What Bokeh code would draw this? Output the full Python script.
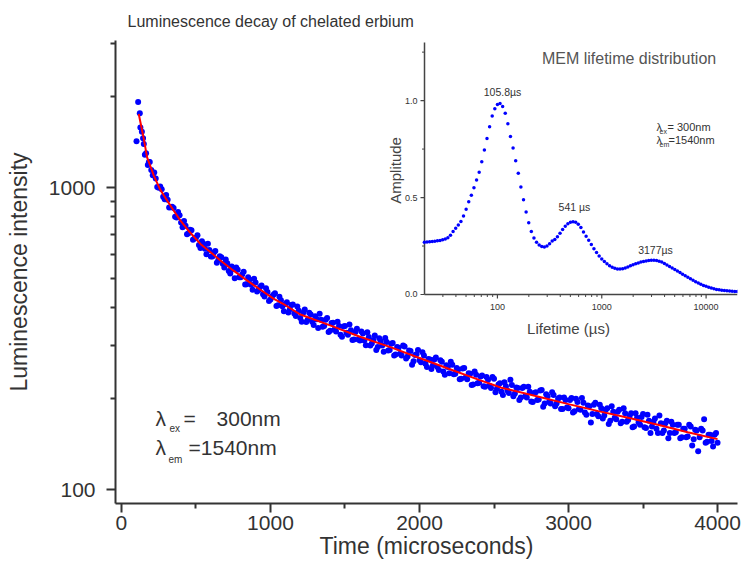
import math
from bokeh.plotting import figure
from bokeh.models import Range1d, FixedTicker, PrintfTickFormatter, LogScale, LinearScale
from bokeh.embed import file_html
from bokeh.resources import INLINE
from bokeh.core.properties import value

FONT = "Liberation Sans"
TXT = "#333333"

# ---------------- main decay data (time in microseconds, intensity) ----------------
early_time = [101, 112, 123, 127, 137, 145, 150, 157, 165, 177, 184]
early_intensity = [1423, 1922, 1762, 1583, 1530, 1457, 1395, 1286, 1300, 1189, 1215]

grid_time = list(range(190, 4000, 20)) + [4000]
grid_intensity = [
    1216, 1098, 1072, 1000, 987, 915, 911, 861, 857, 796, 810, 740, 748, 706, 723, 678,
    695, 631, 652, 602, 622, 592, 617, 576, 588, 544, 562, 520, 537, 544, 505, 516, 478, 505, 477, 499, 453, 469, 444, 464, 421,
    436, 447, 408, 424, 390, 417, 396, 410, 376, 391, 360, 395, 365, 380, 351, 367, 382, 346, 365, 333, 356, 339, 360, 326, 347,
    331, 352, 313, 333, 314, 334, 312, 332, 300, 313, 290, 317, 300, 318, 289, 304, 278, 297, 282, 300, 272, 289, 259, 279, 290,
    264, 278, 255, 270, 258, 274, 249, 265, 240, 255, 265, 241, 253, 232, 252, 235, 243, 222, 246, 225, 237, 220, 236, 221, 236,
    210, 223, 211, 227, 213, 231, 204, 218, 198, 217, 204, 219, 196, 209, 198, 213, 188, 207, 195, 210, 189, 200, 185, 202, 187,
    198, 180, 200, 185, 201, 180, 190, 167, 191, 178, 191, 172, 184, 165, 189, 173, 181, 166, 186, 168, 175, 161, 179, 167, 174,
    161, 177, 154, 168, 159, 176, 154, 166, 148, 168, 154, 164, 148, 159, 149, 164, 140, 158, 134, 159, 171, 144, 152, 139, 154,
    143,
]

mid_time = list(range(200, 4000, 20))
mid_intensity = [
    1143, 1123, 1004, 1009, 932, 946, 859, 864, 801, 831, 766, 775, 701, 725, 672,
    683, 646, 664, 627, 652, 592, 610, 564, 593, 560, 578, 530, 548, 501, 535, 505, 527, 479, 496, 459, 485, 458, 474, 436, 451,
    426, 442, 406, 435, 405, 412, 386, 409, 383, 404, 370, 385, 359, 385, 360, 375, 343, 365, 348, 370, 336, 357, 334, 348, 321,
    348, 326, 337, 314, 341, 312, 329, 301, 320, 305, 324, 297, 310, 286, 308, 290, 306, 280, 295, 278, 298, 276, 288, 266, 281,
    268, 285, 261, 271, 251, 270, 255, 268, 246, 258, 243, 259, 242, 250, 233, 253, 232, 242, 223, 240, 226, 239, 219, 231, 217,
    233, 216, 225, 206, 220, 209, 222, 208, 217, 202, 219, 202, 211, 195, 210, 199, 214, 193, 204, 193, 206, 193, 202, 185, 198,
    186, 201, 182, 195, 184, 194, 177, 189, 178, 194, 175, 186, 176, 186, 169, 181, 171, 184, 168, 179, 170, 179, 162, 173, 164,
    178, 160, 169, 162, 172, 154, 166, 157, 169, 154, 164, 155, 164, 149, 159, 150, 162, 147, 157, 149, 157, 143, 152, 145, 152,
]

fit_time = [116, 130, 150, 172, 195, 217, 240, 260, 285, 307, 350, 396, 450, 530, 600, 664, 750, 844,
            930, 1020, 1100, 1201, 1400, 1600, 1800, 2000, 2200, 2400, 2550, 2800, 3000, 3200, 3400,
            3600, 3800, 4000]
fit_intensity = [1754, 1622, 1450, 1260, 1175, 1096, 1035, 985, 942, 906, 840, 778, 720, 651, 610, 574,
                 532, 492, 460, 429, 408, 380, 350, 321, 297, 273, 251, 231, 217.5, 203, 192, 182, 173,
                 164, 155, 147]

main_xticks = [0, 1000, 2000, 3000, 4000]
main_xminor = [500, 1500, 2500, 3500]
main_yticks = [100, 1000]
main_yminor = [200, 300, 400, 500, 600, 700, 800, 900, 2000, 3000]

# ---------------- inset MEM distribution ----------------
lifetime_us = [10 ** (1.3 + 0.025 * i) for i in range(121)]
amplitude = [
    0.270, 0.271, 0.272, 0.273, 0.275, 0.277, 0.279, 0.282, 0.286, 0.293,
    0.306, 0.325, 0.342, 0.358, 0.376, 0.405, 0.440, 0.478, 0.512, 0.550,
    0.590, 0.630, 0.685, 0.745, 0.805, 0.865, 0.920, 0.958, 0.980, 0.985,
    0.970, 0.935, 0.880, 0.815, 0.755, 0.690, 0.625, 0.555, 0.488, 0.425,
    0.370, 0.325, 0.292, 0.270, 0.255, 0.247, 0.245, 0.250, 0.262, 0.276,
    0.283, 0.298, 0.316, 0.335, 0.352, 0.365, 0.373, 0.375, 0.372, 0.362,
    0.345, 0.322, 0.300, 0.280, 0.258, 0.236, 0.216, 0.198, 0.183, 0.170,
    0.158, 0.148, 0.140, 0.135, 0.132, 0.131, 0.133, 0.137, 0.142, 0.148,
    0.154, 0.159, 0.163, 0.167, 0.170, 0.173, 0.175, 0.176, 0.176, 0.175,
    0.172, 0.167, 0.160, 0.152, 0.145, 0.137, 0.129, 0.121, 0.113, 0.105,
    0.097, 0.089, 0.081, 0.073, 0.066, 0.059, 0.053, 0.047, 0.042, 0.037,
    0.033, 0.029, 0.026, 0.024, 0.022, 0.020, 0.019, 0.018, 0.017, 0.016,
    0.016,
]
peak_labels = ["105.8\u00b5s", "541 \u00b5s", "3177\u00b5s"]
peak_pos_x = [112, 547, 3273]
peak_pos_y = [1.042, 0.449, 0.227]

inset_x_start, inset_x_end = 20, 20000
inset_y_start, inset_y_end = 0.0, 1.3
inset_xticks = [100, 1000, 10000]
inset_xtick_labels = ["100", "1000", "10000"]
inset_xminor = [30, 40, 50, 60, 70, 80, 90, 200, 300, 400, 500, 600, 700, 800, 900,
                2000, 3000, 4000, 5000, 6000, 7000, 8000, 9000]
inset_yticks = [0.0, 0.5, 1.0]
inset_ytick_labels = ["0.0", "0.5", "1.0"]
inset_yminor = [0.25, 0.75, 1.25]

# ================= figure =================
main = figure(width=741, height=575, x_range=Range1d(-40, 4134), y_range=Range1d(90, 3070),
              y_axis_type="log", output_backend="svg", toolbar_location=None,
              min_border_left=115, min_border_right=4, min_border_top=40, min_border_bottom=72,
              outline_line_color=None, background_fill_color="white", border_fill_color="white")
main.xgrid.visible = False
main.ygrid.visible = False

main.title.text = "Luminescence decay of chelated erbium"
main.title.text_font = FONT
main.title.text_font_size = "16px"
main.title.text_font_style = "normal"
main.title.text_color = TXT
main.title.align = "left"
main.title.offset = 12
main.title.standoff = 18
main.title.vertical_align = "top"

main.xaxis.ticker = FixedTicker(ticks=main_xticks, minor_ticks=main_xminor)
main.yaxis.ticker = FixedTicker(ticks=main_yticks, minor_ticks=main_yminor)
main.xaxis.formatter = PrintfTickFormatter(format="%d")
main.yaxis.formatter = PrintfTickFormatter(format="%d")
main.xaxis.axis_label = "Time (microseconds)"
main.yaxis.axis_label = "Luminescence intensity"
for ax in (main.xaxis[0], main.yaxis[0]):
    ax.axis_line_width = 2
    ax.axis_line_color = TXT
    ax.major_tick_line_width = 2
    ax.major_tick_line_color = TXT
    ax.minor_tick_line_width = 2
    ax.minor_tick_line_color = TXT
    ax.major_tick_in = 0
    ax.major_tick_out = 9
    ax.minor_tick_in = 0
    ax.minor_tick_out = 5
    ax.major_label_text_font = FONT
    ax.major_label_text_font_size = "21px"
    ax.major_label_text_color = TXT
    ax.axis_label_text_font = FONT
    ax.axis_label_text_font_size = "23px"
    ax.axis_label_text_font_style = "normal"
    ax.axis_label_text_color = TXT
main.xaxis.major_label_standoff = 3
main.yaxis.major_label_standoff = 11
main.xaxis.axis_label_standoff = 0
main.yaxis.axis_label_standoff = 14

main.scatter(early_time, early_intensity, size=6, color="#0000ff", line_color=None)
main.scatter(grid_time, grid_intensity, size=6, color="#0000ff", line_color=None)
main.scatter(mid_time, mid_intensity, size=6, color="#0000ff", line_color=None)
main.line(fit_time, fit_intensity, line_color="#ff0000", line_width=2)

# wavelength annotation
main.text(x=[228, 416, 638, 228, 450], y=[171.8, 171.8, 171.8, 137.7, 137.7],
          text=["\u03bb", "=", "300nm", "\u03bb", "=1540nm"],
          text_font=value(FONT), text_font_size="21px", text_color=TXT,
          text_align="left", text_baseline="alphabetic")
main.text(x=[322, 315], y=[159.2, 125.7], text=["ex", "em"],
          text_font=value(FONT), text_font_size="10px", text_color=TXT,
          text_align="left", text_baseline="alphabetic")

# ================= inset (own log/linear scales inside the same frame) =================
main.extra_x_ranges = {"ix": Range1d(0.02184, 20000)}
main.extra_x_scales = {"ix": LogScale()}
main.extra_y_ranges = {"iy": Range1d(-1.078, 1.310)}
main.extra_y_scales = {"iy": LinearScale()}
IN = dict(x_range_name="ix", y_range_name="iy")
AX = "#444444"

# axis lines
main.segment(x0=[inset_x_start, inset_x_start], y0=[inset_y_start, inset_y_start],
             x1=[inset_x_end, inset_x_start], y1=[inset_y_start, inset_y_end],
             line_color=AX, line_width=1.5, **IN)
# ticks
main.ray(x=inset_xticks, y=[inset_y_start] * len(inset_xticks), length=4, length_units="screen",
         angle=-math.pi / 2, line_color=AX, line_width=1.2, **IN)
main.ray(x=inset_xminor, y=[inset_y_start] * len(inset_xminor), length=2.5, length_units="screen",
         angle=-math.pi / 2, line_color=AX, line_width=1, **IN)
main.ray(x=[inset_x_start] * len(inset_yticks), y=inset_yticks, length=4, length_units="screen",
         angle=math.pi, line_color=AX, line_width=1.2, **IN)
main.ray(x=[inset_x_start] * len(inset_yminor), y=inset_yminor, length=2.5, length_units="screen",
         angle=math.pi, line_color=AX, line_width=1, **IN)
# tick labels
main.text(x=inset_xticks, y=[inset_y_start] * len(inset_xticks), text=inset_xtick_labels,
          y_offset=13, text_font=value(FONT), text_font_size="9px", text_color=TXT,
          text_align="center", text_baseline="middle", **IN)
main.text(x=[inset_x_start] * len(inset_yticks), y=inset_yticks, text=inset_ytick_labels,
          x_offset=-7, text_font=value(FONT), text_font_size="9px", text_color=TXT,
          text_align="right", text_baseline="middle", **IN)
# axis titles
main.text(x=[480], y=[inset_y_start], text=["Lifetime (\u00b5s)"], y_offset=34,
          text_font=value(FONT), text_font_size="15px", text_color=AX,
          text_align="center", text_baseline="middle", **IN)
main.text(x=[inset_x_start], y=[0.64], text=["Amplitude"], x_offset=-29, angle=math.pi / 2,
          text_font=value(FONT), text_font_size="15px", text_color=AX,
          text_align="center", text_baseline="middle", **IN)

main.scatter(lifetime_us, amplitude, size=3.5, color="#0000ff", line_color=None, **IN)

main.text(x=[267], y=[1.218], text=["MEM lifetime distribution"], text_font=value(FONT),
          text_font_size="16px", text_color="#555555", text_align="left", text_baseline="middle", **IN)
main.text(x=peak_pos_x, y=peak_pos_y, text=peak_labels, text_font=value(FONT),
          text_font_size="10.5px", text_color=TXT, text_align="center", text_baseline="middle", **IN)
main.text(x=[3342, 4266, 3342, 4360], y=[0.862, 0.862, 0.795, 0.795],
          text=["\u03bb", "=  300nm", "\u03bb", "=1540nm"], text_font=value(FONT),
          text_font_size="11px", text_color=TXT, text_align="left", text_baseline="middle", **IN)
main.text(x=[3577, 3577], y=[0.842, 0.775], text=["ex", "em"], text_font=value(FONT),
          text_font_size="7px", text_color=TXT, text_align="left", text_baseline="middle", **IN)

open("out.html", "w").write(file_html(main, INLINE))
